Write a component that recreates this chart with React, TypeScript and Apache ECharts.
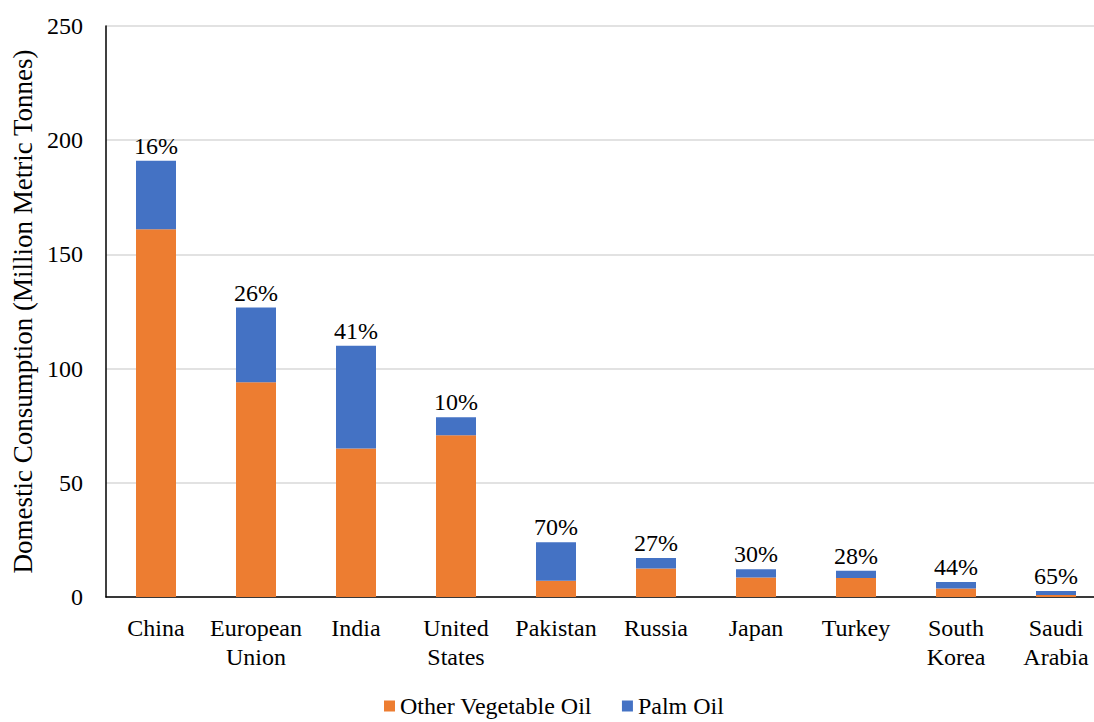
import React, { useEffect, useRef } from "react";
import * as echarts from "echarts";

const categories = [
  "China",
  "European\nUnion",
  "India",
  "United\nStates",
  "Pakistan",
  "Russia",
  "Japan",
  "Turkey",
  "South\nKorea",
  "Saudi\nArabia",
];
const otherVegetableOil = [161, 94, 65, 70.8, 7.1, 12.5, 8.5, 8.3, 3.7, 0.9];
const palmOil = [30, 32.7, 45, 7.9, 16.9, 4.6, 3.6, 3.2, 2.9, 1.7];
const percentLabels = ["16%", "26%", "41%", "10%", "70%", "27%", "30%", "28%", "44%", "65%"];
const yTicks = { min: 0, max: 250, interval: 50 };

const FONT = "Liberation Serif, DejaVu Serif, serif";

export default function App() {
  const ref = useRef<HTMLDivElement>(null);
  useEffect(() => {
    if (!ref.current) return;
    const chart = echarts.init(ref.current, undefined, { renderer: "svg" });
    chart.setOption({
      animation: false,
      backgroundColor: "#ffffff",
      textStyle: { fontFamily: FONT },
      grid: {
        left: 106,
        top: 26,
        width: 1000,
        height: 571,
        containLabel: false,
        outerBoundsMode: "none",
      },
      legend: {
        left: 379,
        top: 689,
        itemWidth: 11,
        itemHeight: 11,
        itemGap: 30,
        icon: "rect",
        textStyle: { fontFamily: FONT, fontSize: 24, color: "#000", padding: [0, 0, 0, 0] },
        data: ["Other Vegetable Oil", "Palm Oil"],
      },
      xAxis: {
        type: "category",
        data: categories,
        axisLine: { lineStyle: { color: "#000", width: 1.5 } },
        axisTick: { show: false },
        axisLabel: {
          fontFamily: FONT,
          fontSize: 24,
          color: "#000",
          margin: 16,
          lineHeight: 29,
          interval: 0,
        },
      },
      yAxis: {
        type: "value",
        min: yTicks.min,
        max: yTicks.max,
        interval: yTicks.interval,
        name: "Domestic Consumption (Million Metric Tonnes)",
        nameLocation: "middle",
        nameGap: 66,
        nameTextStyle: { fontFamily: FONT, fontSize: 27, color: "#000" },
        axisLine: { show: true, lineStyle: { color: "#000", width: 1.5 } },
        axisTick: { show: false },
        axisLabel: { fontFamily: FONT, fontSize: 24, color: "#000", margin: 23 },
        splitLine: { lineStyle: { color: "#d9d9d9", width: 1.5 } },
      },
      series: [
        {
          name: "Other Vegetable Oil",
          type: "bar",
          stack: "total",
          barWidth: 40,
          itemStyle: { color: "#ED7D31" },
          data: otherVegetableOil,
        },
        {
          name: "Palm Oil",
          type: "bar",
          stack: "total",
          barWidth: 40,
          itemStyle: { color: "#4472C4" },
          data: palmOil,
          label: {
            show: true,
            position: "top",
            distance: 3,
            fontFamily: FONT,
            fontSize: 24,
            color: "#000",
            formatter: (p: any) => percentLabels[p.dataIndex],
          },
        },
      ],
    });
    return () => chart.dispose();
  }, []);
  return (
    <div
      ref={ref}
      style={{ position: "absolute", left: 0, top: 0, width: 1094, height: 722 }}
    />
  );
}
